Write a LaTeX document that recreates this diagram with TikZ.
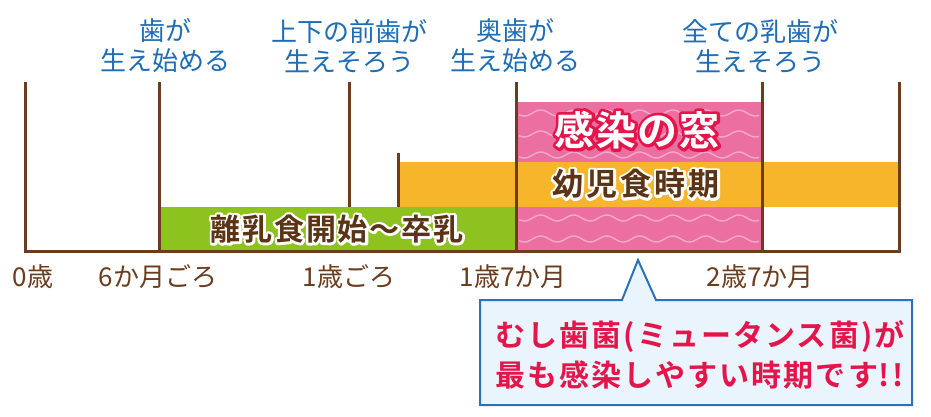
\documentclass[tikz,border=0pt]{standalone}
\usepackage{fontspec}
\setmainfont{Noto Sans CJK JP}[BoldFont={Noto Sans CJK JP Bold}]
\definecolor{lineBrown}{HTML}{6B3D1E}
\definecolor{barBrown}{HTML}{5B3416}
\definecolor{weanGreen}{HTML}{8DC21F}
\definecolor{toddlerOrange}{HTML}{F7B52C}
\definecolor{windowPink}{HTML}{EC6FA1}
\definecolor{wavePink}{HTML}{F5A9CA}
\definecolor{labelBlue}{HTML}{1F6DB5}
\definecolor{alertRed}{HTML}{E4154B}
\definecolor{tipFill}{HTML}{E9F4FC}
\definecolor{tipBorder}{HTML}{2B72BA}
% stroked text (outline colour, stroke width, text)
\newcommand{\edgetext}[3]{\textcolor{#1}{\special{pdf:literal direct 2 Tr #2 w 1 j}#3\special{pdf:literal direct 0 Tr}}}
\usetikzlibrary{positioning}

\begin{document}
\begin{tikzpicture}[x=1pt, y=-1pt,
  tick/.style={draw=lineBrown, line width=3pt},
  wave/.style={draw=wavePink, line width=1.4pt},
  toplbl/.style={text=labelBlue, align=center, inner sep=0pt, font=\fontsize{26}{30}\selectfont},
  agelbl/.style={text=lineBrown, inner sep=0pt, font=\fontsize{26}{30}\selectfont},
  bartxt/.style={inner sep=0pt, font=\bfseries\fontsize{30}{34}\selectfont\addfontfeatures{LetterSpace=6}},
  tiptxt/.style={text=alertRed, align=left, inner sep=0pt, font=\bfseries\fontsize{30}{40}\selectfont\addfontfeatures{LetterSpace=7}}
]
\useasboundingbox[fill=white] (0,0) rectangle (931,417);

% bars
\fill[windowPink] (516,102) rectangle (762,251);
\foreach \k in {0,...,6}
  \draw[wave] plot[domain=3:243, samples=120] ({516+\x}, {113+21*\k+3*sin(\x/33*360)});
\fill[toddlerOrange] (398,162) rectangle (899,207);
\fill[weanGreen] (159,207) rectangle (516,251);

% time axis
\draw[tick, line join=miter] (25,82) |- (899,251) -- (899,82);
\foreach \xt in {159,516,762}
  \draw[tick] (\xt,82) -- (\xt,251);
\draw[tick] (349,82) -- (349,207);
\draw[tick] (398,153) -- (398,207);

% bar labels
\node[bartxt] (wean-edge) at (337,229) {\edgetext{white}{5}{離乳食開始〜卒乳}};
\node[bartxt, text=barBrown] (wean) at (337,229) {離乳食開始〜卒乳};
\node[bartxt, font=\bfseries\fontsize{31}{34}\selectfont\addfontfeatures{LetterSpace=10}] (toddler-edge) at (636,184) {\edgetext{white}{5}{幼児食時期}};
\node[bartxt, font=\bfseries\fontsize{31}{34}\selectfont\addfontfeatures{LetterSpace=10}, text=barBrown] (toddler) at (636,184) {幼児食時期};
\node[bartxt, font=\bfseries\fontsize{40}{44}\selectfont\addfontfeatures{LetterSpace=4}] (window-edge) at (637,130) {\edgetext{alertRed}{6}{感染の窓}};
\node[bartxt, font=\bfseries\fontsize{40}{44}\selectfont\addfontfeatures{LetterSpace=4}, text=white] (window) at (637,130) {感染の窓};

% milestones
\node[toplbl] (m6) at (165,46) {歯が\\生え始める};
\node[toplbl] (m12) at (349,46) {上下の前歯が\\生えそろう};
\node[toplbl] (m19) at (515,46) {奥歯が\\生え始める};
\node[toplbl] (m31) at (760,46) {全ての乳歯が\\生えそろう};

% ages
\node[agelbl] (a0) at (33,277) {0歳};
\node[agelbl] (a6) at (158,277) {6か月ごろ};
\node[agelbl] (a12) at (349,277) {1歳ごろ};
\node[agelbl] (a19) at (513,277) {1歳7か月};
\node[agelbl] (a31) at (760,277) {2歳7か月};

% callout
\draw[fill=tipFill, draw=tipBorder, line width=2pt, line join=miter]
  (480,300) -- (622,300) -- (638,260) -- (656,300) -- (912,300) -- (912,405) -- (480,405) -- cycle;
\node[tiptxt, anchor=west] (tip) at (495,355) {むし歯菌(ミュータンス菌)が\\最も感染しやすい時期です\kern1pt!\kern2pt!};
\end{tikzpicture}
\end{document}
